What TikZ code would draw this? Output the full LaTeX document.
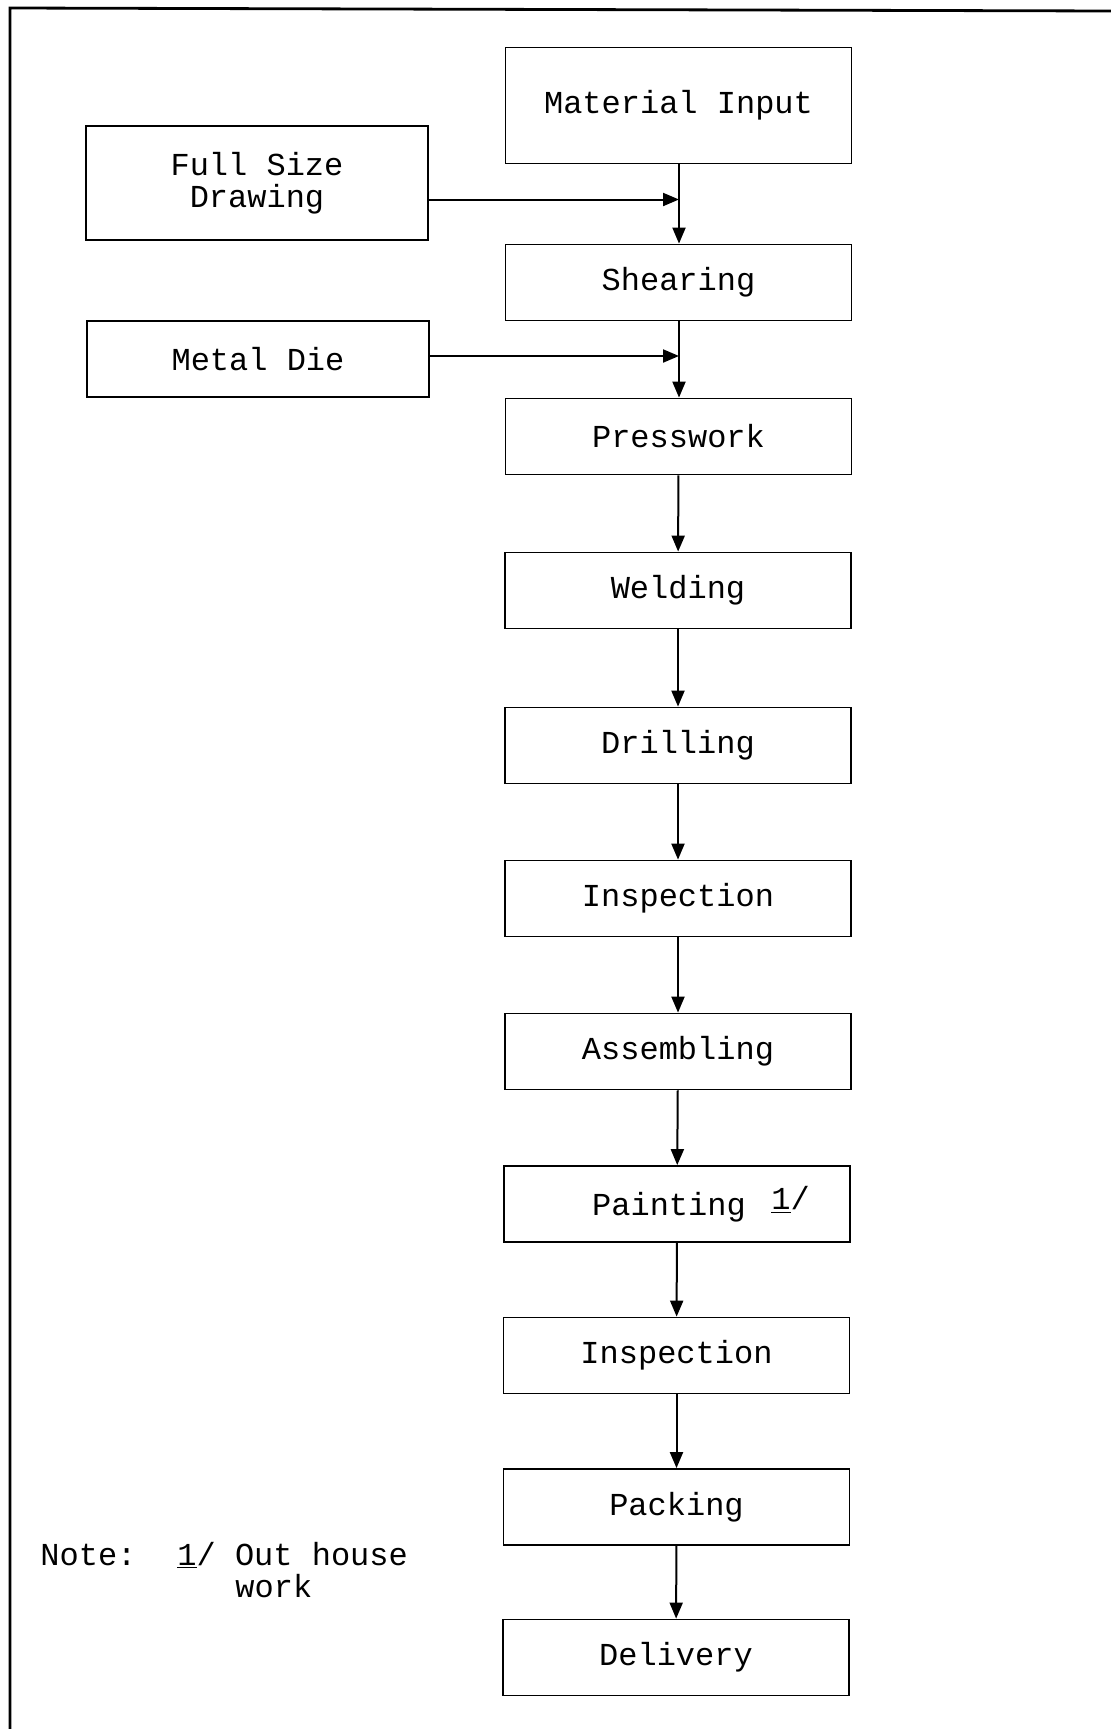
\documentclass[tikz,border=0pt]{standalone}
\usepackage{fontspec}
\setmonofont{Liberation Mono}
\usetikzlibrary{arrows.meta}
\tikzset{
  txt/.style={font=\ttfamily\fontsize{16}{16}\selectfont},
  procbox/.style={txt, draw, line width=0.9pt, minimum width=173pt, minimum height=38pt, inner sep=0pt, align=center},
  sidebox/.style={procbox, minimum width=171pt},
  flow/.style={line width=1pt, -{Triangle[length=8pt,width=6.5pt]}},
  frameline/.style={line width=1.4pt},
  notestyle/.style={txt, anchor=base west, inner sep=0pt}
}
\begin{document}
\begin{tikzpicture}[x=0.5pt,y=-0.5pt]
\useasboundingbox (0,0) rectangle (1111,1729);
\coordinate (tl) at (10,8);
\coordinate (tr) at (1111,11);
\coordinate (bl) at (10,1729);
\draw[frameline] (tr) -- (tl) -- (bl);

\node[procbox, minimum height=58pt] (mat) at (678.5,105.5) {Material Input};
\node[sidebox, minimum height=57pt] (full) at (257,183) {Full Size\\Drawing};
\node[procbox] (shear) at (678.5,282.5) {Shearing};
\node[sidebox] (die) at (258,359) {Metal Die};
\node[procbox] (press) at (678.5,436.5) {Presswork};
\node[procbox] (weld) at (678,590.5) {Welding};
\node[procbox] (drill) at (678,745.5) {Drilling};
\node[procbox] (insp1) at (678,898.5) {Inspection};
\node[procbox] (assem) at (678,1051.5) {Assembling};
\node[procbox] (paint) at (677,1204) {\hspace*{24pt}Painting\hspace{0.8em}\raisebox{3pt}{\underline{1}/}};
\node[procbox] (insp2) at (676.5,1355.5) {Inspection};
\node[procbox] (pack) at (676.5,1507) {Packing};
\node[procbox] (deliv) at (676,1657.5) {Delivery};

\coordinate (j1) at (679,199.5);
\coordinate (j2) at (679,356);
\draw[flow] (mat.south -| j1) -- (shear.north -| j1);
\draw[flow] (full.east |- j1) -- (j1);
\draw[flow] (shear.south -| j2) -- (press.north -| j2);
\draw[flow] (die.east |- j2) -- (j2);
\draw[flow] (press) -- (weld);
\draw[flow] (weld) -- (drill);
\draw[flow] (drill) -- (insp1);
\draw[flow] (insp1) -- (assem);
\draw[flow] (assem) -- (paint);
\draw[flow] (paint) -- (insp2);
\draw[flow] (insp2) -- (pack);
\draw[flow] (pack) -- (deliv);

\node[notestyle] (note) at (40,1565) {Note:};
\node[notestyle] (notetext) at (177,1565) {\underline{1}/ Out house};
\node[notestyle] (notework) at (235,1597) {work};
\end{tikzpicture}
\end{document}
